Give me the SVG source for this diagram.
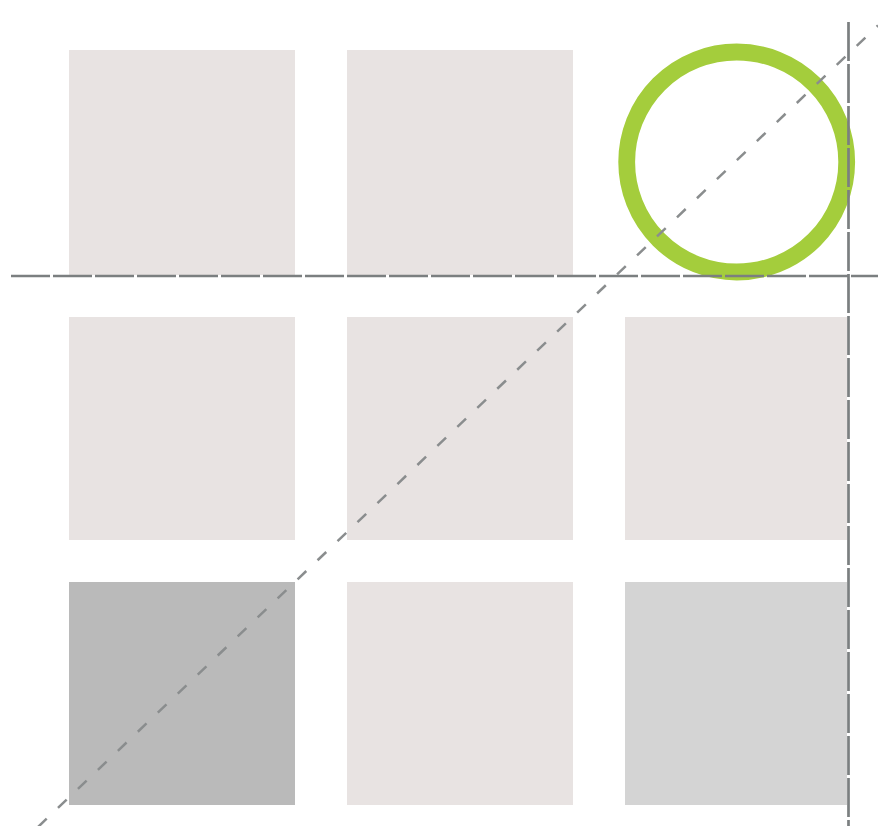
<svg xmlns="http://www.w3.org/2000/svg" width="878" height="826" viewBox="0 0 878 826">
<style>
.sq{fill:#e8e3e2}
.dk{fill:#bababa}
.md{fill:#d4d4d4}
.guide{stroke:#7b7f80;stroke-width:2.7;fill:none;stroke-dasharray:39 3}
.diag{stroke:#8a8d8e;stroke-width:2.5;fill:none;stroke-dasharray:12 15.6}
</style>
<rect width="878" height="826" fill="#ffffff"/>
<g id="n11"><rect class="sq" x="69" y="50" width="226" height="225"/></g>
<g id="n12"><rect class="sq" x="347" y="50" width="226" height="225"/></g>
<g id="n21"><rect class="sq" x="69" y="317" width="226" height="223"/></g>
<g id="n22"><rect class="sq" x="347" y="317" width="226" height="223"/></g>
<g id="n23"><rect class="sq" x="625" y="317" width="222" height="223"/></g>
<g id="n31"><rect class="dk" x="69" y="582" width="226" height="223"/></g>
<g id="n32"><rect class="sq" x="347" y="582" width="226" height="223"/></g>
<g id="n33"><rect class="md" x="625" y="582" width="222" height="223"/></g>
<g id="n13"><circle cx="736.7" cy="162" r="110" fill="none" stroke="#a4cd3c" stroke-width="16.8"/></g>
<g id="connectors">
<line class="guide" x1="11" y1="276" x2="878" y2="276"/>
<line class="guide" x1="848.5" y1="22" x2="848.5" y2="826"/>
<line class="diag" x1="38" y1="827" x2="878" y2="25.5"/>
</g>
</svg>
